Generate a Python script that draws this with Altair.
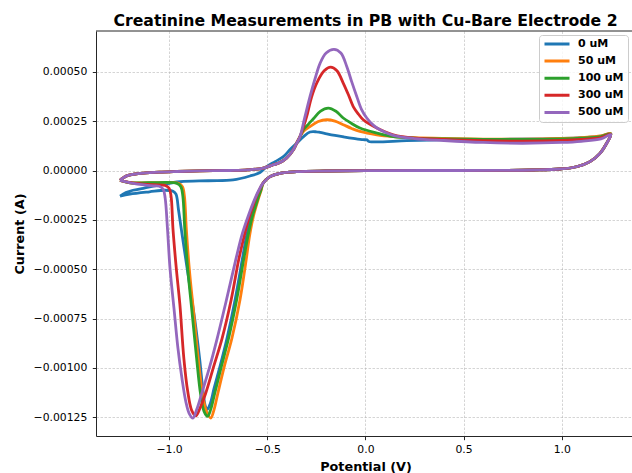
import altair as alt
import pandas as pd

SERIES = ["0 uM", "50 uM", "100 uM", "300 uM", "500 uM"]
COLORS = ["#1f77b4", "#ff7f0e", "#2ca02c", "#d62728", "#9467bd"]

# ---- shared pieces (potential in V, current in microamps) ----
# anodic baseline (50-500 uM) from -1.25 V up to the oxidation wave
base_up_v = [-1.25, -1.235, -1.216, -1.18, -1.131, -1.05, -0.961, -0.843, -0.69, -0.6,
             -0.52, -0.469, -0.435, -0.401, -0.367, -0.35, -0.333]
base_up_i = [-50, -38, -27, -19, -13, -8, -5, -2, 0, 3,
             12, 29, 40, 63, 105, 139, 172]
# cathodic return from +1.25 V down to the onset of the reduction wave
ret_v = [1.229, 1.195, 1.144, 1.076, 0.991, 0.855, 0.686, 0.3, 0.0, -0.2,
         -0.35, -0.435, -0.486, -0.52]
ret_i = [138, 87, 45, 19, 7.6, 2.5, 0.5, 0, -1, -2.5,
         -6, -14, -31, -62]

# ---- 0 uM ----
v0_up = [-1.25, -1.22, -1.184, -1.131, -1.04, -0.944, -0.8, -0.674, -0.588, -0.537,
         -0.503, -0.46, -0.418, -0.385, -0.35, -0.315, -0.282, -0.25, -0.231, -0.197,
         -0.155, -0.113, -0.062, -0.011, 0.008, 0.018, 0.21, 0.38, 0.686, 0.9,
         1.0, 1.1, 1.2, 1.25]
i0_up = [-130, -112, -100, -90, -72, -57, -52, -48, -28, -10,
         20, 45, 70, 105, 138, 172, 195, 196, 193, 186,
         178, 171, 163, 156, 155, 147, 151, 155, 158, 160,
         162, 166, 174, 186]
v0_dn = [-0.535, -0.553, -0.58, -0.605, -0.627, -0.664, -0.705, -0.74, -0.77, -0.79,
         -0.805, -0.815, -0.828, -0.845, -0.87, -0.9, -0.93, -0.952, -0.965, -0.98,
         -1.02, -1.1, -1.2, -1.25]
i0_dn = [-100, -150, -230, -330, -450, -656, -850, -990, -1100, -1180,
         -1210, -1195, -1110, -950, -750, -550, -350, -200, -120, -105,
         -100, -108, -120, -130]

# ---- 50 uM ----
v50_up = [-0.316, -0.282, -0.24, -0.197, -0.155, -0.113, -0.07, -0.028, 0.058, 0.142,
          0.25, 0.4, 0.6, 0.8, 1.0, 1.1, 1.2, 1.25]
i50_up = [198, 223, 248, 257, 250, 232, 213, 198, 181, 172,
          166, 162, 159, 159, 163, 167, 175, 187]
v50_dn = [-0.531, -0.547, -0.57, -0.59, -0.607, -0.639, -0.68, -0.718, -0.752, -0.772,
          -0.788, -0.81, -0.83, -0.852, -0.877, -0.897, -0.912, -0.922, -0.932, -0.952,
          -1.1, -1.2, -1.25]
i50_dn = [-100, -150, -230, -330, -450, -656, -850, -990, -1130, -1215,
          -1254, -1220, -1130, -950, -700, -500, -300, -130, -82, -65,
          -62, -62, -50]

# ---- 100 uM ----
v100_up = [-0.316, -0.29, -0.265, -0.23, -0.189, -0.15, -0.113, -0.07, -0.028, 0.058,
           0.142, 0.25, 0.4, 0.6, 0.8, 1.0, 1.1, 1.2, 1.25]
i100_up = [206, 235, 262, 300, 316, 300, 266, 238, 215, 190,
           172, 164, 160, 158, 157, 160, 164, 172, 185]
v100_dn = [-0.533, -0.55, -0.575, -0.598, -0.62, -0.656, -0.697, -0.733, -0.768, -0.788,
           -0.804, -0.822, -0.84, -0.86, -0.885, -0.905, -0.92, -0.93, -0.94, -0.96,
           -1.1, -1.2, -1.25]
i100_dn = [-100, -150, -230, -330, -450, -656, -850, -990, -1130, -1210,
           -1245, -1220, -1130, -950, -700, -500, -300, -130, -82, -65,
           -62, -62, -50]

# ---- 300 uM ----
v300_up = [-0.316, -0.299, -0.275, -0.248, -0.21, -0.177, -0.145, -0.113, -0.085, -0.062,
           -0.035, -0.011, 0.058, 0.142, 0.25, 0.4, 0.6, 0.8, 1.0, 1.1, 1.2, 1.25]
i300_up = [220, 274, 370, 443, 505, 524, 505, 443, 380, 324,
           285, 257, 215, 181, 164, 157, 151, 149, 152, 157, 167, 183]
v300_dn = [-0.541, -0.562, -0.59, -0.617, -0.645, -0.684, -0.73, -0.772, -0.814, -0.843,
           -0.864, -0.885, -0.905, -0.925, -0.945, -0.963, -0.98, -0.99, -1.0, -1.02,
           -1.08, -1.18, -1.25]
i300_dn = [-100, -150, -230, -330, -450, -656, -850, -990, -1130, -1205,
           -1243, -1215, -1120, -950, -680, -500, -300, -130, -90, -76,
           -72, -64, -50]

# ---- 500 uM ----
v500_up = [-0.31, -0.282, -0.255, -0.231, -0.2, -0.16, -0.125, -0.095, -0.07, -0.044,
           -0.02, 0.007, 0.04, 0.074, 0.142, 0.25, 0.4, 0.6, 0.8, 1.0,
           1.1, 1.2, 1.25]
i500_up = [264, 375, 470, 543, 595, 614, 595, 527, 450, 375,
           310, 266, 230, 206, 178, 162, 152, 142, 138, 142,
           148, 160, 182]
v500_dn = [-0.543, -0.566, -0.595, -0.627, -0.66, -0.708, -0.755, -0.792, -0.834, -0.859,
           -0.879, -0.898, -0.915, -0.935, -0.955, -0.975, -0.995, -1.008, -1.02, -1.03,
           -1.05, -1.081, -1.183, -1.25]
i500_dn = [-100, -150, -225, -320, -450, -656, -850, -990, -1130, -1210,
           -1254, -1230, -1170, -1050, -900, -700, -500, -300, -140, -95,
           -80, -78, -65, -50]

loops = {
    "0 uM": (v0_up + ret_v + v0_dn, i0_up + ret_i + i0_dn),
    "50 uM": (base_up_v + v50_up + ret_v + v50_dn, base_up_i + i50_up + ret_i + i50_dn),
    "100 uM": (base_up_v + v100_up + ret_v + v100_dn, base_up_i + i100_up + ret_i + i100_dn),
    "300 uM": (base_up_v + v300_up + ret_v + v300_dn, base_up_i + i300_up + ret_i + i300_dn),
    "500 uM": (base_up_v + v500_up + ret_v + v500_dn, base_up_i + i500_up + ret_i + i500_dn),
}

rows = []
for name in SERIES:
    vs, cs = loops[name]
    for k, (v, c) in enumerate(zip(vs, cs)):
        rows.append({"s": name, "idx": k, "v": v, "i": c * 1e-6})
df = pd.DataFrame(rows)

W, H = 536, 405
FONT = "DejaVu Sans"

lines = alt.Chart(df).mark_line(strokeWidth=2.8, strokeJoin="round", clip=True,
                                interpolate="catmull-rom").encode(
    x=alt.X("v:Q",
            scale=alt.Scale(domain=[-1.3724, 1.3581], nice=False, zero=False),
            axis=alt.Axis(title="Potential (V)", values=[-1.0, -0.5, 0.0, 0.5, 1.0], format=".1f",
                          labelBaseline="alphabetic", labelPadding=12.9,
                          titleX=269.5, titleY=34, titleBaseline="alphabetic")),
    y=alt.Y("i:Q",
            scale=alt.Scale(domain=[-0.001345, 0.0007067], nice=False, zero=False),
            axis=alt.Axis(title="Current (A)",
                          values=[-0.00125, -0.001, -0.00075, -0.0005, -0.00025, 0.0, 0.00025, 0.0005],
                          format=".5f", labelPadding=5.5,
                          titleX=-73, titleY=202.5, titleAngle=270, titleBaseline="alphabetic",
                          titleAlign="center")),
    color=alt.Color("s:N", scale=alt.Scale(domain=SERIES, range=COLORS),
                    legend=alt.Legend(title=None, orient="top-right", offset=4,
                                      symbolType="stroke", symbolSize=625, symbolStrokeWidth=3,
                                      labelFont=FONT, labelFontSize=11, labelFontWeight="bold",
                                      labelColor="#000000", labelOffset=7,
                                      clipHeight=10, rowPadding=6.1,
                                      fillColor="rgba(255,255,255,0.8)", strokeColor="#cccccc",
                                      cornerRadius=3, padding=4)),
    order=alt.Order("idx:Q"),
)

frame_top = alt.Chart(alt.Data(values=[{}])).mark_rule(color="#262626", strokeWidth=1).encode(
    x=alt.value(0), x2=alt.value(W), y=alt.value(0)
)

chart = alt.layer(lines, frame_top).properties(
    width=W, height=H,
    title=alt.TitleParams("Creatinine Measurements in PB with Cu-Bare Electrode 2",
                          font=FONT, fontSize=15.7, fontWeight="bold", color="#000000",
                          anchor="middle", baseline="alphabetic", offset=6, dx=1.5, dy=17),
    autosize=alt.AutoSizeParams(type="none"),
    padding={"left": 96, "top": 31, "right": 0, "bottom": 37},
).configure_view(stroke=None).configure_axis(
    labelFont=FONT, labelFontSize=10.8, labelColor="#000000",
    titleFont=FONT, titleFontSize=12.8, titleFontWeight="bold", titleColor="#000000",
    domainColor="#262626", domainWidth=1, tickColor="#262626", tickWidth=1, tickSize=3.7,
    gridColor="#b0b0b0", gridDash=[2.5, 1.5], gridWidth=0.6, gridOpacity=0.9,
)

chart.save("out.html", embed_options={"renderer": "svg", "actions": False})
